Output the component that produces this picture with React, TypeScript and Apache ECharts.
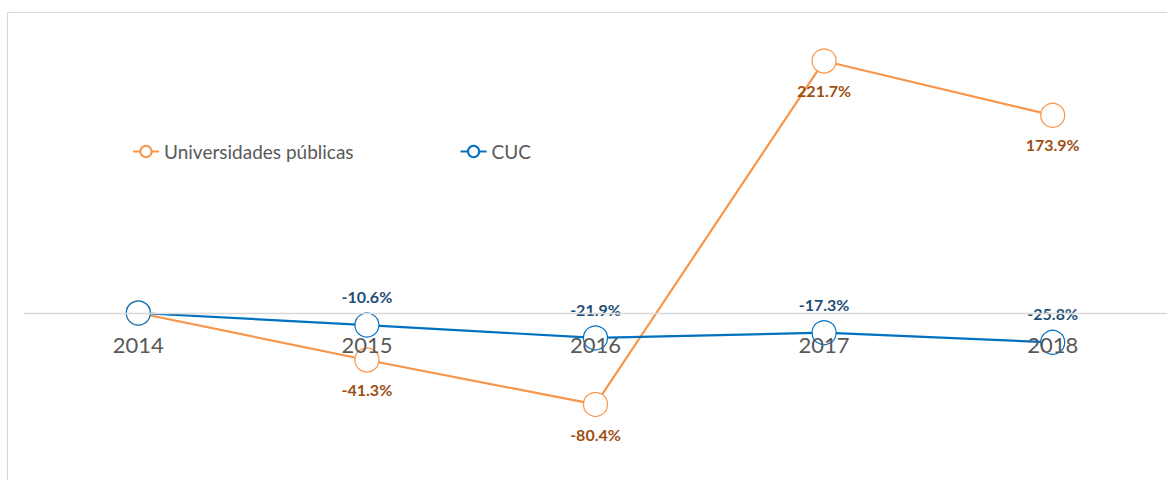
import React, { useEffect, useRef } from "react";
import * as echarts from "echarts";

const categories = ["2014", "2015", "2016", "2017", "2018"];
const universidadesPublicas = [0, -41.3, -80.4, 221.7, 173.9];
const cuc = [0, -10.6, -21.9, -17.3, -25.8];
const seriesNames = ["Universidades públicas", "CUC"];

const FONT = "Lato, 'Noto Sans', sans-serif";

export default function App() {
  const ref = useRef<HTMLDivElement>(null);
  useEffect(() => {
    if (!ref.current) return;
    const chart = echarts.init(ref.current, undefined, { renderer: "svg" });
    const fmt = (p: any) => Number(p.value).toFixed(1) + "%";
    const toData = (arr: number[]) =>
      arr.map((v, i) => (i === 0 ? { value: v, label: { show: false } } : v));
    const yMin = -100;
    const yMax = 250;
    const gridTop = 28.8;
    const gridBottom = 53.3;
    const plotH = 480 - gridTop - gridBottom;
    const zeroY = gridTop + (yMax / (yMax - yMin)) * plotH;
    const axisOffset = -(480 - gridBottom - zeroY);
    chart.setOption({
      animation: false,
      backgroundColor: "#ffffff",
      textStyle: { fontFamily: FONT },
      graphic: [
        {
          type: "rect",
          silent: true,
          z: -10,
          shape: { x: 7.5, y: 12.5, width: 1300, height: 600 },
          style: { fill: "none", stroke: "#d9d9d9", lineWidth: 1.2 },
        },
      ],
      legend: {
        left: 127,
        top: 137,
        itemGap: 106,
        itemWidth: 26,
        itemHeight: 14,
        textStyle: { fontSize: 19, color: "#595959", fontFamily: FONT },
        data: seriesNames,
      },
      grid: { left: 24, right: 0, top: gridTop, bottom: gridBottom, containLabel: false },
      xAxis: {
        type: "category",
        data: categories,
        boundaryGap: true,
        position: "bottom",
        offset: axisOffset,
        z: 10,
        axisLine: { show: true, onZero: false, lineStyle: { color: "#d9d9d9", width: 1.3 } },
        axisTick: { show: false },
        axisLabel: { fontSize: 22, color: "#595959", margin: 20, fontFamily: FONT },
        splitLine: { show: false },
      },
      yAxis: {
        type: "value",
        min: yMin,
        max: yMax,
        show: false,
        splitLine: { show: false },
      },
      series: [
        {
          name: seriesNames[0],
          type: "line",
          data: toData(universidadesPublicas),
          symbol: "circle",
          symbolSize: 24,
          z: 2,
          lineStyle: { color: "#F7964A", width: 2.2 },
          itemStyle: { color: "#ffffff", borderColor: "#F7964A", borderWidth: 1.2 },
          label: {
            show: true,
            position: "bottom",
            distance: 9,
            formatter: fmt,
            fontSize: 16,
            fontWeight: "bold",
            color: "#9C5016",
            fontFamily: FONT,
          },
        },
        {
          name: seriesNames[1],
          type: "line",
          data: toData(cuc),
          symbol: "circle",
          symbolSize: 24,
          z: 3,
          lineStyle: { color: "#0070C0", width: 2.2 },
          itemStyle: { color: "#ffffff", borderColor: "#0070C0", borderWidth: 1.2 },
          label: {
            show: true,
            position: "top",
            distance: 8,
            formatter: fmt,
            fontSize: 16,
            fontWeight: "bold",
            color: "#1F4E79",
            fontFamily: FONT,
          },
        },
      ],
    });
    return () => chart.dispose();
  }, []);
  return (
    <div
      ref={ref}
      style={{ position: "absolute", left: 0, top: 0, width: 1167, height: 480 }}
    />
  );
}
